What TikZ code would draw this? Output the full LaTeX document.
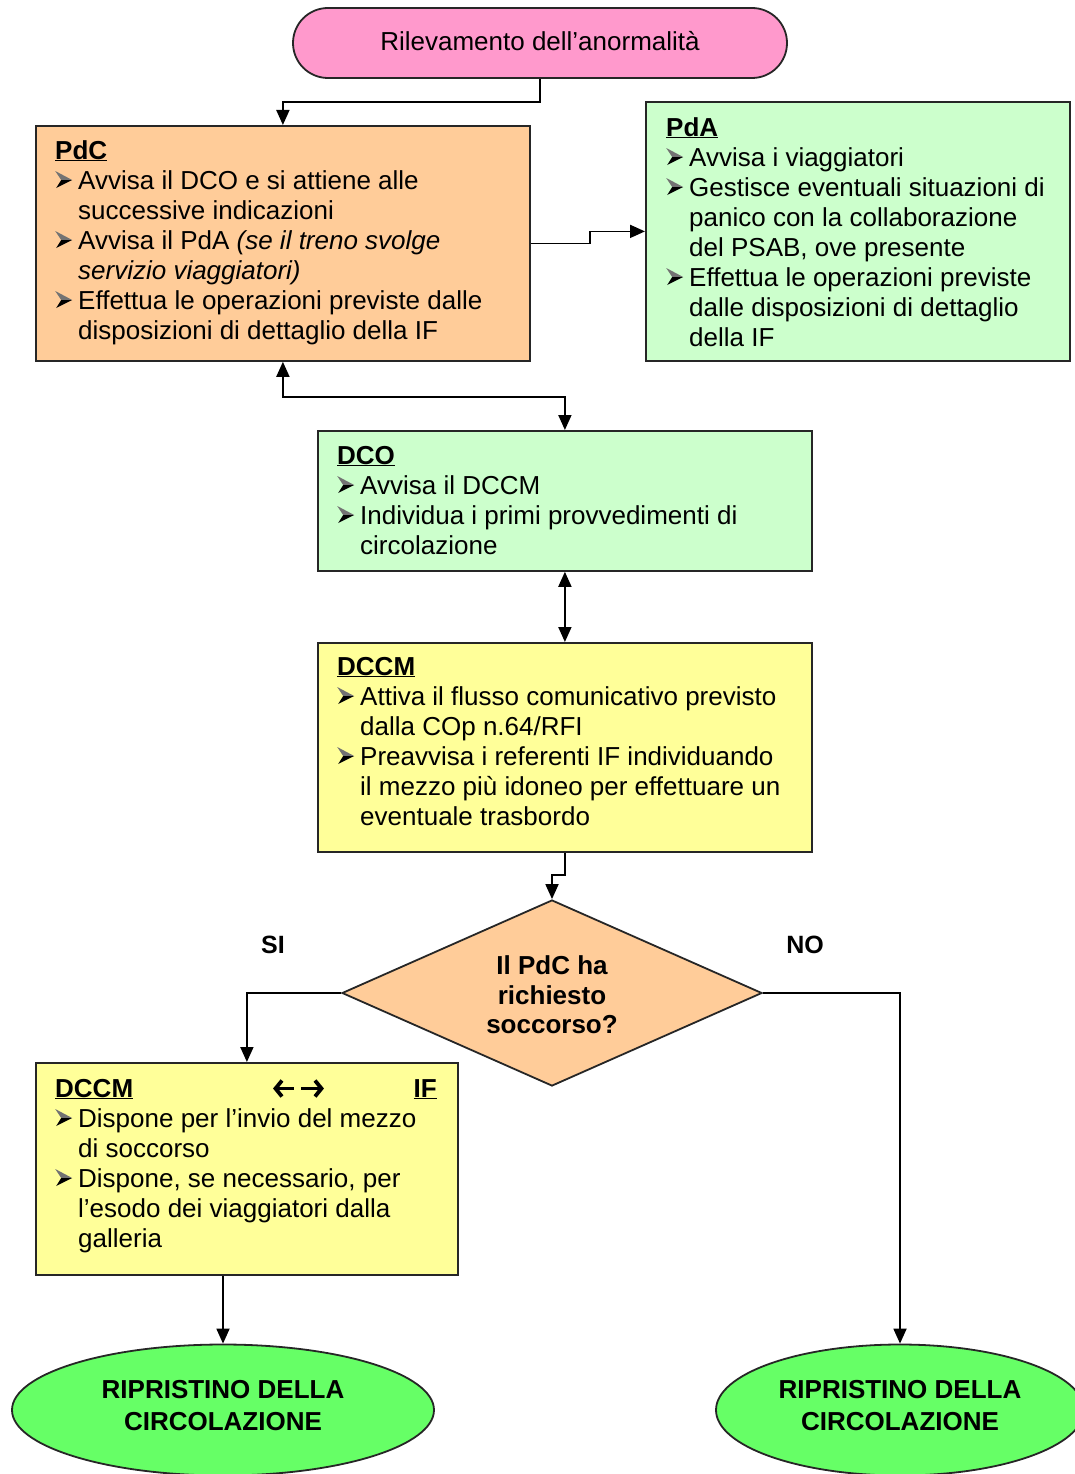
\documentclass[tikz,border=0pt]{standalone}
\usepackage{fontspec}
\setmainfont{Liberation Sans}
\usetikzlibrary{arrows.meta,shapes.geometric}
\definecolor{cpink}{HTML}{FF99CC}
\definecolor{corange}{HTML}{FFCC99}
\definecolor{clgreen}{HTML}{CCFFCC}
\definecolor{cyellow}{HTML}{FFFF99}
\definecolor{cgreen}{HTML}{66FF66}
\newcommand\bu{\makebox[23pt][l]{\tikz[baseline=0pt,x=1pt,y=1pt]{%
  \fill[black!55] (2,18) -- (19,9) -- (8,9) -- cycle;
  \fill[black] (8,9) -- (19,9) -- (3,1) -- cycle;}}}
\newcommand\ind{\hspace*{23pt}}
\newcommand\ttl[1]{\underline{\textbf{#1}}}
\begin{document}
\begin{tikzpicture}[x=1pt,y=-1pt,
  box/.style={draw=black!85, line width=1.8pt, rectangle, inner sep=0pt, anchor=north west},
  txt/.style={anchor=base west, inner sep=0pt, align=left, font=\fontsize{26}{30}\selectfont},
  arr/.style={-{Triangle[length=15pt,width=13pt]}, line width=1.8pt},
  arrb/.style={{Triangle[length=15pt,width=13pt]}-{Triangle[length=15pt,width=13pt]}, line width=1.8pt},
  heavy/.style={line width=3.8pt, line join=miter, line cap=butt}]
\useasboundingbox (0,0) rectangle (1074,1474);
\fill[white] (0,0) rectangle (1074,1474);

% top terminal
\node[draw=black!85, line width=1.8pt, fill=cpink, rounded corners=35pt, minimum width=494pt, minimum height=70pt, inner sep=0pt] (top) at (540,43) {};
\node[inner sep=0pt, font=\fontsize{26}{30}\selectfont] (toptxt) at (540,41) {Rilevamento dell’anormalità};

% PdC (base anchor = last line)
\node[box, fill=corange, minimum width=494pt, minimum height=235pt] (pdc) at (35,125) {};
\node[txt] (pdctxt) at (55,339) {\ttl{PdC}\\
\bu Avvisa il DCO e si attiene alle\\
\ind successive indicazioni\\
\bu Avvisa il PdA \textit{(se il treno svolge}\\
\ind \textit{servizio viaggiatori)}\\
\bu Effettua le operazioni previste dalle\\
\ind disposizioni di dettaglio della IF};

% PdA
\node[box, fill=clgreen, minimum width=424pt, minimum height=259pt] (pda) at (645,101) {};
\node[txt] (pdatxt) at (666,346) {\ttl{PdA}\\
\bu Avvisa i viaggiatori\\
\bu Gestisce eventuali situazioni di\\
\ind panico con la collaborazione\\
\ind del PSAB, ove presente\\
\bu Effettua le operazioni previste\\
\ind dalle disposizioni di dettaglio\\
\ind della IF};

% DCO
\node[box, fill=clgreen, minimum width=494pt, minimum height=140pt] (dco) at (317,430) {};
\node[txt] (dcotxt) at (337,554) {\ttl{DCO}\\
\bu Avvisa il DCCM\\
\bu Individua i primi provvedimenti di\\
\ind circolazione};

% DCCM
\node[box, fill=cyellow, minimum width=494pt, minimum height=209pt] (dccm) at (317,642) {};
\node[txt] (dccmtxt) at (337,825) {\ttl{DCCM}\\
\bu Attiva il flusso comunicativo previsto\\
\ind dalla COp n.64/RFI\\
\bu Preavvisa i referenti IF individuando\\
\ind il mezzo più idoneo per effettuare un\\
\ind eventuale trasbordo};

% decision
\node[diamond, draw=black!85, line width=1.8pt, fill=corange, minimum width=420pt, minimum height=186pt, inner sep=0pt, aspect=2.26] (dia) at (552,993) {};
\node[inner sep=0pt, align=center, font=\bfseries\fontsize{26}{29.5}\selectfont] (diatxt) at (552,995) {Il PdC ha\\ richiesto\\ soccorso?};
\node[inner sep=0pt, font=\bfseries\fontsize{25}{28}\selectfont] (si) at (273,945) {SI};
\node[inner sep=0pt, font=\bfseries\fontsize{25}{28}\selectfont] (no) at (805,945) {NO};

% DCCM <-> IF
\node[box, fill=cyellow, minimum width=422pt, minimum height=212pt] (dccm2) at (35,1062) {};
\node[txt] (dccm2txt) at (55,1247) {\ttl{DCCM}\\
\bu Dispone per l’invio del mezzo\\
\ind di soccorso\\
\bu Dispone, se necessario, per\\
\ind l’esodo dei viaggiatori dalla\\
\ind galleria};
\node[anchor=base east, inner sep=0pt, font=\fontsize{26}{30}\selectfont] (iftxt) at (437,1097) {\ttl{IF}};
% heavy double arrows between DCCM and IF
\draw[heavy] (282,1080.5) -- (275.5,1088.5) -- (282,1096.5);
\draw[heavy] (276,1088.5) -- (294,1088.5);
\draw[heavy] (315,1080.5) -- (321.5,1088.5) -- (315,1096.5);
\draw[heavy] (301,1088.5) -- (321,1088.5);

% end ellipses
\node[ellipse, draw=black!85, line width=1.8pt, fill=cgreen, minimum width=422pt, minimum height=131pt, inner sep=0pt] (ell1) at (223,1410) {};
\node[inner sep=0pt, align=center, font=\bfseries\fontsize{26}{32}\selectfont] (ell1txt) at (223,1406) {RIPRISTINO DELLA\\ CIRCOLAZIONE};
\node[ellipse, draw=black!85, line width=1.8pt, fill=cgreen, minimum width=368pt, minimum height=131pt, inner sep=0pt] (ell2) at (900,1410) {};
\node[inner sep=0pt, align=center, font=\bfseries\fontsize{26}{32}\selectfont] (ell2txt) at (900,1406) {RIPRISTINO DELLA\\ CIRCOLAZIONE};

% connectors
\draw[arr] (top.south) -- ++(0,23) -| (pdc.north);
\draw[arr] (pdc.east) -- ++(59,0) |- (pda.west);
\draw[arrb] (pdc.south) -- ++(0,35) -| (dco.north);
\draw[arrb] (dco.south) -- (dccm.north);
\draw[arr] (dccm.south) -- ++(0,22) -| (dia.north);
\draw[arr] (dia.west) -| (dccm2.north);
\draw[arr] (dia.east) -| (ell2.north);
\draw[arr] (dccm2.south -| ell1.north) -- (ell1.north);
\end{tikzpicture}
\end{document}
